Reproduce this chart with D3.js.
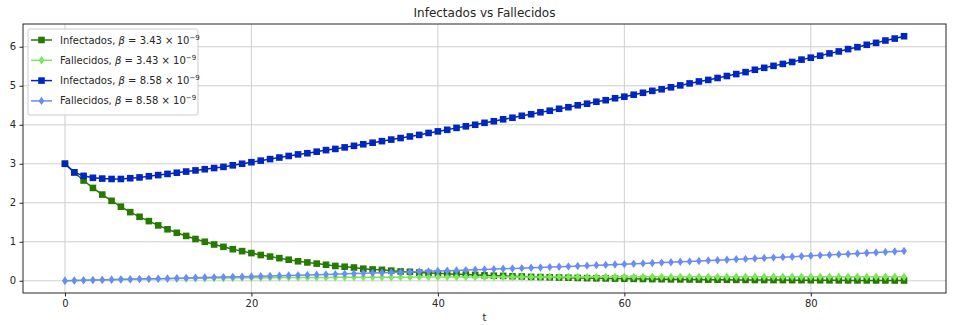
<!DOCTYPE html>
<html>
<head>
<meta charset="utf-8">
<script src="https://cdn.jsdelivr.net/npm/d3@7"></script>
<style>
  body { margin: 0; background: #fff; }
  text { font-family: "DejaVu Sans", sans-serif; }
</style>
</head>
<body>
<div id="chart"></div>
<script>
// t = 0..90, one point per day
const days = d3.range(0, 91);

const infectadosLow = [
  3.00, 2.78, 2.57, 2.38, 2.21, 2.05, 1.90, 1.76, 1.64, 1.53,
  1.42, 1.32, 1.23, 1.15, 1.07, 1.00, 0.93, 0.87, 0.81, 0.76,
  0.71, 0.66, 0.62, 0.58, 0.54, 0.50, 0.47, 0.44, 0.41, 0.38,
  0.36, 0.34, 0.31, 0.29, 0.28, 0.26, 0.24, 0.23, 0.21, 0.20,
  0.19, 0.18, 0.17, 0.16, 0.15, 0.14, 0.13, 0.125, 0.117, 0.11,
  0.10, 0.095, 0.089, 0.083, 0.078, 0.073, 0.068, 0.064, 0.060, 0.056,
  0.052, 0.049, 0.046, 0.043, 0.040, 0.037, 0.035, 0.033, 0.031, 0.029,
  0.027, 0.025, 0.023, 0.022, 0.020, 0.019, 0.018, 0.017, 0.016, 0.015,
  0.014, 0.013, 0.012, 0.011, 0.010, 0.0095, 0.009, 0.008, 0.0075, 0.007,
  0.0065
];

const fallecidosLow = [
  0.000, 0.007, 0.014, 0.020, 0.025, 0.031, 0.036, 0.040, 0.044, 0.048,
  0.052, 0.055, 0.058, 0.061, 0.064, 0.066, 0.069, 0.071, 0.073, 0.075,
  0.077, 0.078, 0.080, 0.081, 0.083, 0.084, 0.085, 0.086, 0.087, 0.088,
  0.089, 0.090, 0.090, 0.091, 0.092, 0.092, 0.093, 0.093, 0.094, 0.094,
  0.095, 0.095, 0.096, 0.096, 0.096, 0.097, 0.097, 0.097, 0.098, 0.098,
  0.098, 0.098, 0.099, 0.099, 0.099, 0.099, 0.099, 0.100, 0.100, 0.100,
  0.100, 0.100, 0.100, 0.101, 0.101, 0.101, 0.101, 0.101, 0.101, 0.101,
  0.101, 0.102, 0.102, 0.102, 0.102, 0.102, 0.102, 0.102, 0.102, 0.102,
  0.102, 0.102, 0.102, 0.103, 0.103, 0.103, 0.103, 0.103, 0.103, 0.103,
  0.103
];

const infectadosHigh = [
  3.00, 2.78, 2.69, 2.64, 2.62, 2.61, 2.61, 2.63, 2.65, 2.68,
  2.71, 2.74, 2.77, 2.80, 2.83, 2.86, 2.89, 2.92, 2.96, 3.00,
  3.04, 3.08, 3.12, 3.16, 3.20, 3.24, 3.27, 3.31, 3.35, 3.38,
  3.42, 3.46, 3.50, 3.54, 3.58, 3.62, 3.66, 3.70, 3.74, 3.79,
  3.83, 3.87, 3.92, 3.96, 4.00, 4.05, 4.09, 4.14, 4.18, 4.23,
  4.27, 4.32, 4.36, 4.41, 4.45, 4.50, 4.54, 4.59, 4.63, 4.68,
  4.72, 4.77, 4.82, 4.87, 4.91, 4.96, 5.01, 5.06, 5.11, 5.15,
  5.20, 5.25, 5.30, 5.35, 5.41, 5.46, 5.51, 5.56, 5.61, 5.67,
  5.72, 5.77, 5.83, 5.88, 5.94, 5.99, 6.05, 6.10, 6.16, 6.21,
  6.27
];

const fallecidosHigh = [
  0.000, 0.006, 0.011, 0.017, 0.022, 0.027, 0.033, 0.038, 0.043, 0.049,
  0.054, 0.060, 0.065, 0.071, 0.077, 0.082, 0.088, 0.094, 0.100, 0.106,
  0.112, 0.118, 0.124, 0.131, 0.137, 0.144, 0.150, 0.157, 0.163, 0.170,
  0.177, 0.184, 0.191, 0.198, 0.205, 0.212, 0.220, 0.227, 0.235, 0.242,
  0.250, 0.258, 0.266, 0.274, 0.282, 0.290, 0.299, 0.307, 0.316, 0.324,
  0.333, 0.342, 0.351, 0.360, 0.369, 0.378, 0.388, 0.397, 0.407, 0.416,
  0.426, 0.436, 0.446, 0.456, 0.466, 0.476, 0.486, 0.497, 0.507, 0.518,
  0.528, 0.539, 0.550, 0.561, 0.572, 0.583, 0.594, 0.606, 0.617, 0.629,
  0.640, 0.652, 0.664, 0.676, 0.688, 0.700, 0.712, 0.725, 0.737, 0.750,
  0.763
];

const xTicks = [0, 20, 40, 60, 80];
const yTicks = [0, 1, 2, 3, 4, 5, 6];

const seriesNames = ["Infectados", "Fallecidos", "Infectados", "Fallecidos"];
const seriesBeta = ["3.43", "3.43", "8.58", "8.58"];
const seriesColors = ["#267a00", "#7de65c", "#0026c0", "#6b8cf7"];
const seriesMarkers = ["square", "diamond", "square", "diamond"];
const seriesValues = [infectadosLow, fallecidosLow, infectadosHigh, fallecidosHigh];

const full_width = 953, full_height = 325;
const margin = {top: 24, right: 7, bottom: 32, left: 23};

const svg = d3.select('#chart')
  .append('svg')
    .attr('width', full_width)
    .attr('height', full_height);

// matplotlib style 5% padding on data range
const xMin = d3.min(days), xMax = d3.max(days);
const allY = seriesValues.flat();
const yMin = d3.min(allY), yMax = d3.max(allY);
const xPad = (xMax - xMin) * 0.05, yPad = (yMax - yMin) * 0.05;

let x = d3.scaleLinear()
  .domain([xMin - xPad, xMax + xPad])
  .range([margin.left, full_width - margin.right]);
let y = d3.scaleLinear()
  .domain([yMin - yPad, yMax + yPad])
  .range([full_height - margin.bottom, margin.top]);

// grid
svg.append('g')
  .selectAll('line')
  .data(xTicks)
  .enter()
  .append('line')
    .attr('x1', d => x(d)).attr('x2', d => x(d))
    .attr('y1', margin.top).attr('y2', full_height - margin.bottom)
    .attr('stroke', '#cfcfcf').attr('stroke-width', 1);
svg.append('g')
  .selectAll('line')
  .data(yTicks)
  .enter()
  .append('line')
    .attr('y1', d => y(d)).attr('y2', d => y(d))
    .attr('x1', margin.left).attr('x2', full_width - margin.right)
    .attr('stroke', '#cfcfcf').attr('stroke-width', 1);

// axes
const xAxis = svg.append('g')
  .attr('transform', 'translate(0,' + (full_height - margin.bottom) + ')')
  .call(d3.axisBottom(x).tickValues(xTicks).tickFormat(d3.format('d'))
    .tickSize(3.5).tickPadding(3.5).tickSizeOuter(0));
const yAxis = svg.append('g')
  .attr('transform', 'translate(' + margin.left + ',0)')
  .call(d3.axisLeft(y).tickValues(yTicks).tickFormat(d3.format('d'))
    .tickSize(3.5).tickPadding(3.5).tickSizeOuter(0));
[xAxis, yAxis].forEach(a => {
  a.select('.domain').remove();
  a.selectAll('text').attr('font-size', 10).attr('fill', '#262626')
    .style('font-family', '"DejaVu Sans", sans-serif');
  a.selectAll('line').attr('stroke', '#262626');
});

// frame
svg.append('rect')
  .attr('x', margin.left).attr('y', margin.top)
  .attr('width', full_width - margin.right - margin.left)
  .attr('height', full_height - margin.bottom - margin.top)
  .attr('fill', 'none').attr('stroke', '#262626').attr('stroke-width', 1);

const markerPath = (kind) => kind === 'square'
  ? 'M-3.3,-3.3H3.3V3.3H-3.3Z'
  : 'M0,-4.2L2.9,0L0,4.2L-2.9,0Z';

const line = d3.line().x((d, i) => x(days[i])).y(d => y(d));

seriesValues.forEach((vals, k) => {
  const g = svg.append('g');
  g.append('path')
    .datum(vals)
    .attr('d', line)
    .attr('fill', 'none')
    .attr('stroke', seriesColors[k])
    .attr('stroke-width', 1.5);
  g.selectAll('path.m')
    .data(vals)
    .enter()
    .append('path')
      .attr('class', 'm')
      .attr('d', markerPath(seriesMarkers[k]))
      .attr('transform', (d, i) => 'translate(' + x(days[i]) + ',' + y(d) + ')')
      .attr('fill', seriesColors[k]);
});

// title and label
svg.append('text')
  .attr('x', (margin.left + full_width - margin.right) / 2)
  .attr('y', 17)
  .attr('text-anchor', 'middle')
  .attr('font-size', 12)
  .attr('fill', '#262626')
  .text('Infectados vs Fallecidos');
svg.append('text')
  .attr('x', (margin.left + full_width - margin.right) / 2)
  .attr('y', 321)
  .attr('text-anchor', 'middle')
  .attr('font-size', 10)
  .attr('fill', '#262626')
  .text('t');

// legend
const legend = svg.append('g').attr('transform', 'translate(28,29)');
legend.append('rect')
  .attr('width', 170).attr('height', 86)
  .attr('rx', 2)
  .attr('fill', '#fff').attr('fill-opacity', 0.8)
  .attr('stroke', '#cccccc');
seriesNames.forEach((name, k) => {
  const row = legend.append('g').attr('transform', 'translate(0,' + (11 + k * 20.3) + ')');
  row.append('line')
    .attr('x1', 3).attr('x2', 24)
    .attr('stroke', seriesColors[k]).attr('stroke-width', 1.5);
  row.append('path')
    .attr('d', markerPath(seriesMarkers[k]))
    .attr('transform', 'translate(13.5,0)')
    .attr('fill', seriesColors[k]);
  const t = row.append('text')
    .attr('x', 32).attr('y', 3.5)
    .attr('font-size', 10)
    .attr('fill', '#262626');
  t.append('tspan').text(name + ', ');
  t.append('tspan').attr('font-style', 'italic').text('β');
  t.append('tspan').text(' = ' + seriesBeta[k] + ' × 10');
  t.append('tspan').attr('font-size', 7).attr('dy', -4).text('−9');
});
</script>
</body>
</html>
